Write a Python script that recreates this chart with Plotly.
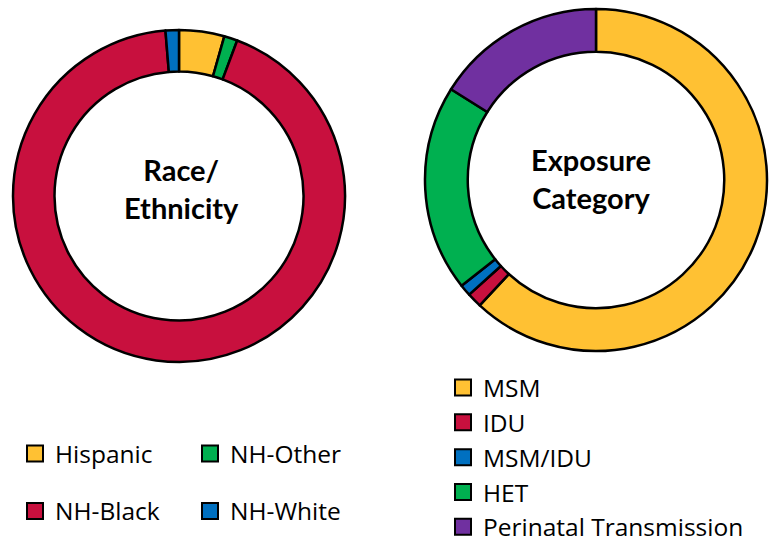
import plotly.graph_objects as go

# ---- data ----
race_labels = ["Hispanic", "NH-Other", "NH-Black", "NH-White"]
race_values = [4.4, 1.3, 93.0, 1.3]
race_colors = ["#FFC133", "#00B050", "#C8103E", "#0070C0"]

exp_labels = ["MSM", "IDU", "MSM/IDU", "HET", "Perinatal Transmission"]
exp_values = [61.9, 1.4, 1.1, 19.5, 16.1]
exp_colors = ["#FFC133", "#C8103E", "#0070C0", "#00B050", "#7030A0"]

W, H = 776, 538
FONT = "Lato"
LEG_FONT = "Open Sans"

fig = go.Figure()

fig.add_trace(go.Pie(
    labels=race_labels, values=race_values, hole=0.75, sort=False,
    direction="clockwise", rotation=0, textinfo="none", hoverinfo="label+percent",
    marker=dict(colors=race_colors, line=dict(color="black", width=2.5)),
    domain=dict(x=[13 / W, 345 / W], y=[1 - 362 / H, 1 - 30 / H]),
    showlegend=False,
))
fig.add_trace(go.Pie(
    labels=exp_labels, values=exp_values, hole=0.75, sort=False,
    direction="clockwise", rotation=0, textinfo="none", hoverinfo="label+percent",
    marker=dict(colors=exp_colors, line=dict(color="black", width=2.5)),
    domain=dict(x=[425 / W, 767 / W], y=[1 - 352 / H, 1 - 8 / H]),
    showlegend=False,
))

# legend entries (square swatches)
race_legend = ["legend", "legend", "legend2", "legend2"]
for lab, col, lg in zip(race_labels, race_colors, race_legend):
    fig.add_trace(go.Scatter(
        x=[None], y=[None], mode="markers", name=lab, legend=lg,
        marker=dict(symbol="square", size=16, color=col, line=dict(color="black", width=2)),
    ))
for i, (lab, col) in enumerate(zip(exp_labels, exp_colors)):
    fig.add_trace(go.Scatter(
        x=[None], y=[None], mode="markers", name=lab, legend="legend3",
        legendgroup=f"g{i}",
        marker=dict(symbol="square", size=16, color=col, line=dict(color="black", width=2)),
    ))

leg_font = dict(family=LEG_FONT, size=24.5, color="black")
common = dict(font=leg_font, itemsizing="trace", bgcolor="rgba(0,0,0,0)",
              itemclick=False, itemdoubleclick=False, xanchor="left", yanchor="top")
fig.update_layout(
    width=W, height=H,
    margin=dict(l=0, r=0, t=0, b=0, autoexpand=False),
    paper_bgcolor="white", plot_bgcolor="white",
    xaxis=dict(visible=False), yaxis=dict(visible=False),
    legend=dict(orientation="h", x=15 / W, y=1 - 431 / H,
                entrywidth=130, entrywidthmode="pixels", **common),
    legend2=dict(orientation="h", x=15 / W, y=1 - 488.5 / H,
                 entrywidth=130, entrywidthmode="pixels", **common),
    legend3=dict(orientation="v", x=443 / W, y=1 - 365 / H,
                 tracegroupgap=0, **common),
    annotations=[
        dict(text="<b>Race/<br>Ethnicity</b>", x=181 / W, y=1 - 189 / H, xref="paper", yref="paper",
             xanchor="center", yanchor="middle", showarrow=False,
             font=dict(family=FONT, size=29, color="black")),
        dict(text="<b>Exposure<br>Category</b>", x=591 / W, y=1 - 178 / H, xref="paper", yref="paper",
             xanchor="center", yanchor="middle", showarrow=False,
             font=dict(family=FONT, size=29, color="black")),
    ],
)

fig.write_html("out.html", config={"displayModeBar": False},
               post_script="document.body.style.margin='0';")
